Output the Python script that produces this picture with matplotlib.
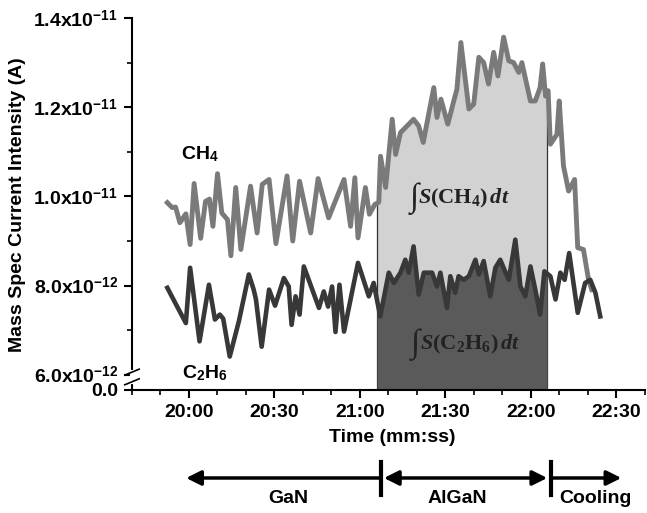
import numpy as np
import matplotlib
matplotlib.use('Agg')
from matplotlib import pyplot as plt
from matplotlib.ticker import FixedLocator, MultipleLocator, FuncFormatter

plt.rcParams['font.family'] = ['Liberation Sans', 'DejaVu Sans']
plt.rcParams['font.weight'] = 'bold'
plt.rcParams['mathtext.fontset'] = 'custom'
plt.rcParams['mathtext.rm'] = 'Liberation Serif'
plt.rcParams['mathtext.it'] = 'Liberation Serif:italic'
plt.rcParams['mathtext.bf'] = 'Liberation Sans:bold'
plt.rcParams['mathtext.sf'] = 'Liberation Sans:bold'
plt.rcParams['mathtext.bfit'] = 'Liberation Serif:italic:bold'

# time in seconds after 20:00, signal in units of 1e-12 A
T0 = 20 * 60

ch4_t = [-7.6, -5.9, -4.7, -3.2, -1.1, 0.4, 1.8, 4.1, 5.8, 7.2,
         8.4, 10.0, 11.5, 13.5, 14.7, 16.4, 18.2, 21.6, 23.9, 25.7,
         28.1, 30.5, 34.4, 36.4, 38.8, 42.7, 45.3, 49.0, 54.4, 56.7,
         58.2, 59.3, 61.9, 63.3, 65.2, 66.6, 67.2, 69.0, 71.3, 72.5,
         74.2, 76.5, 78.8, 80.6, 82.2, 84.2, 85.9, 87.0, 88.4, 90.8,
         92.9, 94.0, 95.4, 98.2, 99.9, 101.7, 103.4, 105.1, 106.9, 108.4,
         110.4, 112.2, 113.9, 115.7, 116.8, 119.8, 121.5, 123.2, 124.1, 125.1,
         126.0, 126.8, 129.1, 129.9, 131.4, 133.2, 135.3, 136.4, 138.4, 140.2,
         141.3]
ch4_v = [9.86, 9.75, 9.76, 9.41, 9.61, 8.92, 10.29, 9.06, 9.89, 9.94,
         9.33, 10.51, 9.63, 9.48, 8.67, 10.20, 8.81, 10.23, 9.18, 10.27,
         10.38, 8.94, 10.46, 9.00, 10.34, 9.18, 10.40, 9.52, 10.38, 9.33,
         10.42, 9.07, 10.20, 9.60, 9.82, 9.87, 10.90, 10.20, 11.73, 10.94,
         11.43, 11.58, 11.73, 11.58, 11.21, 11.88, 12.44, 11.77, 12.18, 11.62,
         12.14, 12.40, 13.45, 11.96, 12.07, 13.12, 13.00, 12.52, 13.23, 12.70,
         13.57, 13.04, 13.00, 12.78, 13.00, 12.14, 12.14, 12.44, 12.97, 12.25,
         12.37, 11.17, 11.39, 12.14, 10.68, 10.12, 10.38, 8.85, 8.81, 8.13,
         7.91]

c2h6_t = [-7.6, -1.1, 0.4, 3.7, 7.0, 9.1, 10.8, 12.0, 14.3, 17.5,
          21.0, 22.7, 23.5, 25.5, 28.1, 30.2, 33.3, 35.0, 36.0, 37.4,
          38.8, 40.3, 45.6, 47.3, 48.8, 50.2, 51.4, 52.8, 54.4, 59.3,
          63.1, 64.8, 67.1, 70.1, 71.9, 74.2, 75.9, 77.1, 78.8, 80.6,
          82.4, 85.3, 87.0, 88.2, 90.5, 91.7, 93.4, 94.6, 96.4, 98.2,
          100.5, 101.7, 103.4, 105.7, 107.5, 109.2, 111.1, 112.2, 114.5, 116.3,
          118.0, 119.8, 121.5, 123.2, 124.7, 126.8, 128.6, 130.3, 131.8, 133.4,
          136.4, 139.0, 140.8, 142.6, 144.3]
c2h6_v = [7.95, 7.16, 8.40, 6.75, 8.02, 7.24, 7.35, 7.26, 6.41, 7.20,
          8.25, 7.91, 7.69, 6.63, 7.91, 7.55, 8.17, 7.98, 7.12, 7.76,
          7.35, 8.43, 7.50, 7.87, 7.53, 7.98, 6.96, 8.02, 6.97, 8.51,
          7.76, 8.06, 7.31, 8.29, 8.06, 8.29, 8.58, 8.29, 8.88, 7.80,
          8.29, 8.29, 7.98, 8.29, 7.50, 8.21, 7.84, 8.21, 8.13, 8.21,
          8.58, 8.25, 8.55, 7.76, 8.40, 8.58, 8.29, 8.13, 9.03, 7.98,
          7.76, 8.43, 7.91, 7.35, 8.32, 8.21, 7.69, 8.29, 8.13, 8.73,
          7.39, 8.06, 8.13, 7.84, 7.31]

# integration window (AlGaN growth) and process stages
win_start, win_end = 66.0, 125.6
stage_marks = [67.2, 126.9]
stage_ends = [-1.0, 151.7]
stage_names = ['GaN', 'AlGaN', 'Cooling']
stage_label_t = [35.0, 94.0, 142.7]

y_bottom = 5.66
y_ticks = [y_bottom, 6, 8, 10, 12, 14]
y_labels = ['0.0', '6.0x10$^{\\mathsf{-12}}$', '8.0x10$^{\\mathsf{-12}}$',
            '1.0x10$^{\\mathsf{-11}}$', '1.2x10$^{\\mathsf{-11}}$',
            '1.4x10$^{\\mathsf{-11}}$']

ch4_t = T0 + np.array(ch4_t)
c2h6_t = T0 + np.array(c2h6_t)
ch4_v = np.array(ch4_v)
c2h6_v = np.array(c2h6_v)
t_lo, t_hi = T0 + win_start, T0 + win_end


def window(t, v):
    m = (t > t_lo) & (t < t_hi)
    tt = np.r_[t_lo, t[m], t_hi]
    vv = np.r_[np.interp(t_lo, t, v), v[m], np.interp(t_hi, t, v)]
    return tt, vv


fig = plt.figure(figsize=(6.47, 5.13), dpi=100)
ax = fig.add_axes([0.204, 0.2398, 0.7929, 0.7251])

tt, vv = window(ch4_t, ch4_v)
ax.fill_between(tt, y_bottom, vv, color='#d2d2d2', lw=0, zorder=1)
ax.plot([t_lo, t_lo], [y_bottom, vv[0]], color='#303030', lw=0.9, zorder=2)
ax.plot([t_hi, t_hi], [y_bottom, vv[-1]], color='#303030', lw=0.9, zorder=2)
tt, vv = window(c2h6_t, c2h6_v)
ax.fill_between(tt, y_bottom, vv, color='#5a5a5a', lw=0, zorder=2)

ax.plot(ch4_t, ch4_v, color='#7a7a7a', lw=3.5, zorder=3)
ax.plot(c2h6_t, c2h6_v, color='#383838', lw=3.3, zorder=4)

ax.text(T0 + 3.9, 10.94, 'CH$_{\\mathsf{4}}$', fontsize=14, ha='center', va='center')
ax.text(T0 + 5.6, 6.04, 'C$_{\\mathsf{2}}$H$_{\\mathsf{6}}$', fontsize=14,
        ha='center', va='center')

# integral labels: tall integral sign plus the rest of the expression
for t_int, v_int, body in [(80.5, 9.96, '$\\mathbfit{S}(\\mathrm{CH}_{4})\\,\\mathbfit{dt}$'),
                           (81.0, 6.67, '$\\mathbfit{S}(\\mathrm{C}_{2}\\mathrm{H}_{6})\\,\\mathbfit{dt}$')]:
    ax.text(T0 + t_int, v_int, '\u222b', family='Liberation Serif', fontweight='normal',
            fontsize=24, ha='right', va='center', color='#222222', zorder=5)
    ax.text(T0 + t_int, v_int, body, fontsize=16, ha='left', va='center',
            color='#222222', zorder=5)

ax.set_xlim(T0 - 20, T0 + 160)
ax.set_ylim(y_bottom, 14)
ax.xaxis.set_major_locator(MultipleLocator(30))
ax.xaxis.set_minor_locator(MultipleLocator(10))
ax.xaxis.set_major_formatter(FuncFormatter(lambda s, p: '%d:%02d' % (s // 60, s % 60)))
ax.yaxis.set_major_locator(FixedLocator(y_ticks))
ax.yaxis.set_minor_locator(FixedLocator([7, 9, 11, 13]))
ax.set_yticklabels(y_labels)

for side in ['top', 'right']:
    ax.spines[side].set_visible(False)
for side in ['left', 'bottom']:
    ax.spines[side].set_linewidth(1.5)
ax.tick_params(which='major', direction='out', length=6, width=1.5, labelsize=14, pad=4)
ax.tick_params(which='minor', direction='out', length=3.5, width=1.2)

# axis break on the y axis
ax.plot([0, 0], [0.022, 0.048], transform=ax.transAxes, color='white', lw=3,
        clip_on=False, zorder=10)
for yb in [0.022, 0.048]:
    ax.plot([-0.014, 0.014], [yb - 0.008, yb + 0.008], transform=ax.transAxes,
            color='black', lw=1.2, clip_on=False, zorder=11)

fig.text(18 / 647, 1 - 205 / 513, 'Mass Spec Current Intensity (A)', rotation=90,
         ha='center', va='center', fontsize=14)
fig.text(392 / 647, 1 - 438 / 513, 'Time (mm:ss)', ha='center', va='center', fontsize=14)

# process stage arrows under the axis
tr = ax.get_xaxis_transform()
y_arr = -0.2366
arrow_kw = dict(color='black', lw=2.5, shrinkA=0, shrinkB=0, mutation_scale=22)
ax.annotate('', xy=(T0 + stage_ends[0], y_arr), xytext=(T0 + stage_marks[0], y_arr),
            xycoords=tr, textcoords=tr, annotation_clip=False,
            arrowprops=dict(arrowstyle='-|>', **arrow_kw))
ax.annotate('', xy=(T0 + stage_marks[1] - 1.2, y_arr), xytext=(T0 + stage_marks[0] + 1.2, y_arr),
            xycoords=tr, textcoords=tr, annotation_clip=False,
            arrowprops=dict(arrowstyle='<|-|>', **arrow_kw))
ax.annotate('', xy=(T0 + stage_ends[1], y_arr), xytext=(T0 + stage_marks[1], y_arr),
            xycoords=tr, textcoords=tr, annotation_clip=False,
            arrowprops=dict(arrowstyle='-|>', **arrow_kw))
for m in stage_marks:
    ax.plot([T0 + m, T0 + m], [-0.1935, -0.2823], transform=tr,
            color='black', lw=3, clip_on=False)
for name, t_lab in zip(stage_names, stage_label_t):
    ax.text(T0 + t_lab, -0.293, name, transform=tr, ha='center', va='center', fontsize=14)

fig.savefig('out.png', dpi=100)
